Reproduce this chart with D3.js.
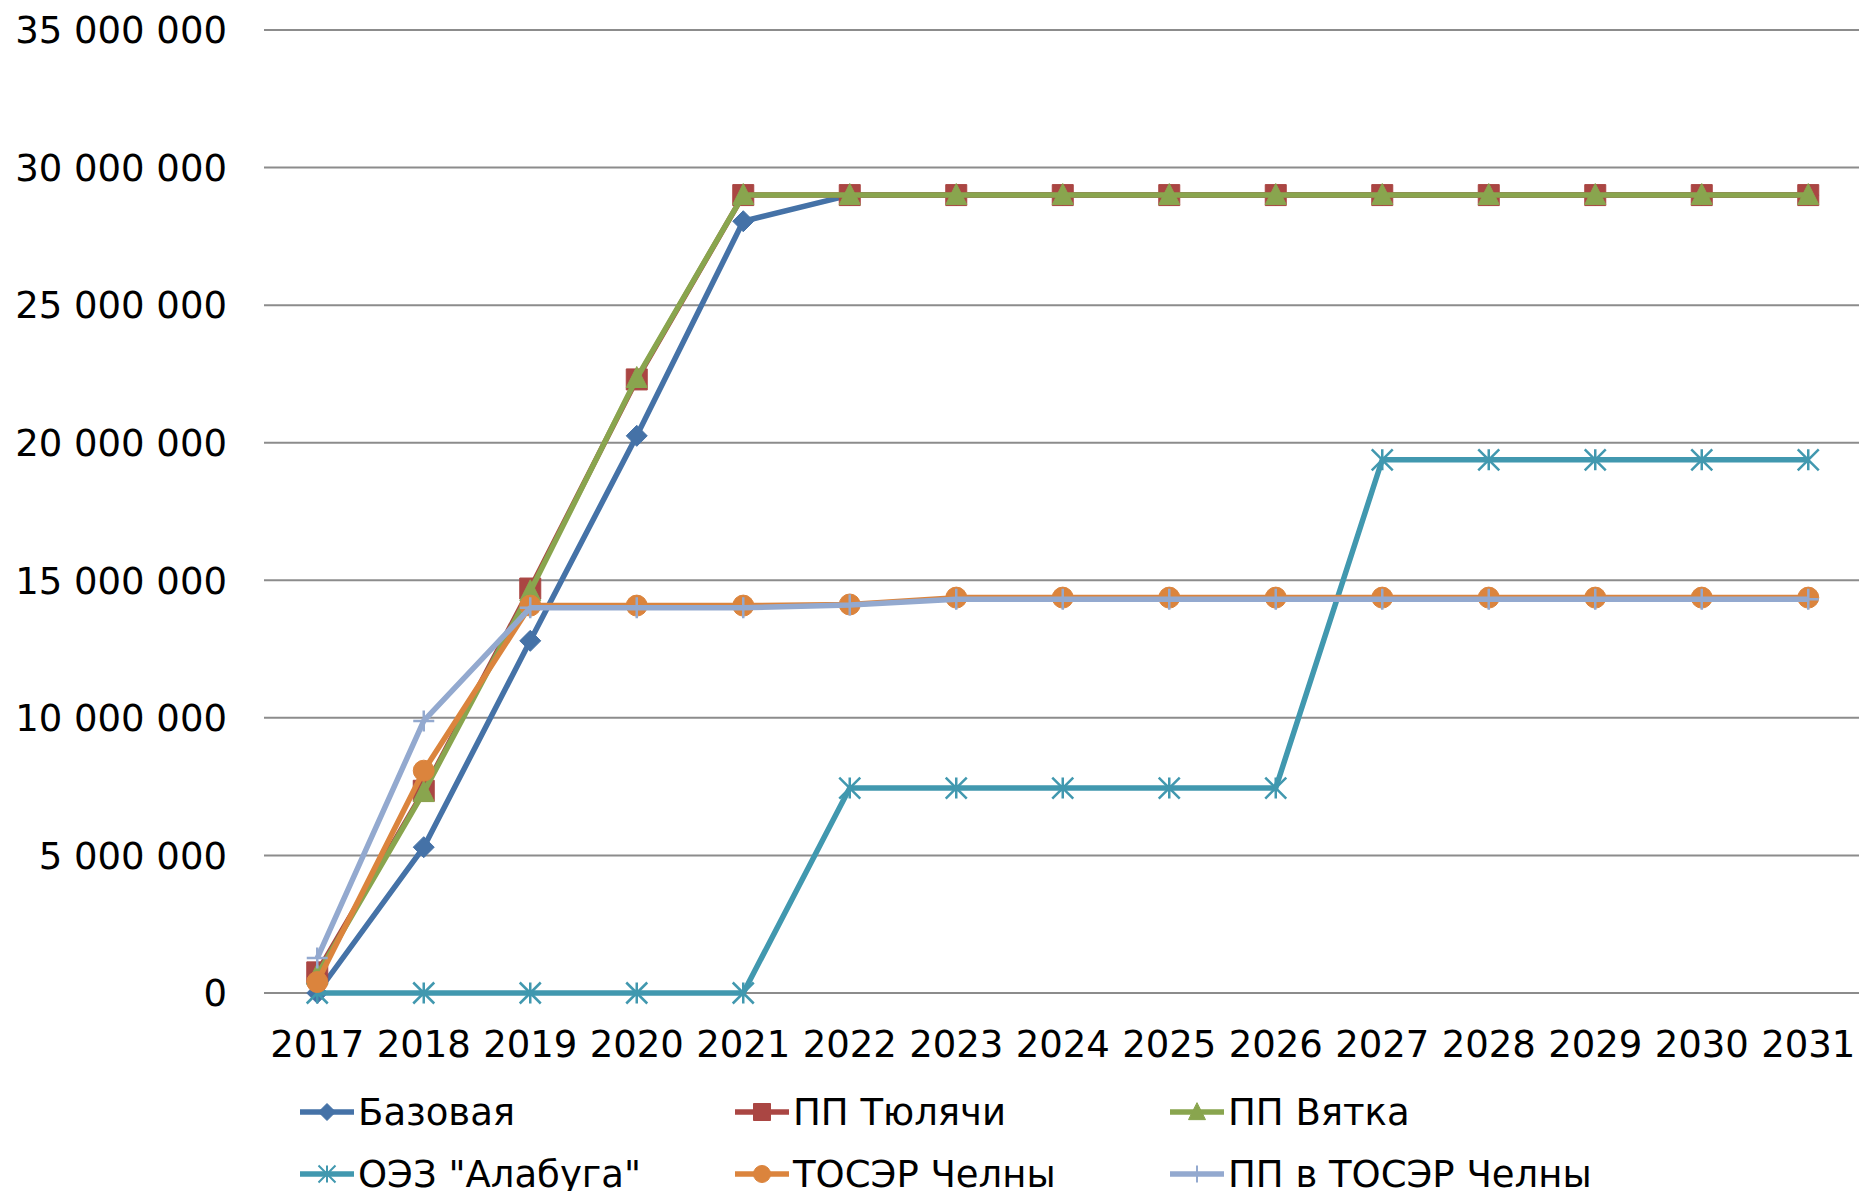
<!DOCTYPE html>
<html>
<head>
<meta charset="utf-8">
<script src="https://cdn.jsdelivr.net/npm/d3@7"></script>
<style>
  html, body { margin: 0; padding: 0; background: #fff; }
  svg { display: block; font-family: "DejaVu Sans", Verdana, sans-serif; }
</style>
</head>
<body>
<svg id="chart" width="1859" height="1191"></svg>
<script>
// Data
const years = ["2017", "2018", "2019", "2020", "2021", "2022", "2023", "2024",
               "2025", "2026", "2027", "2028", "2029", "2030", "2031"];
const yTicks = [0, 5000000, 10000000, 15000000, 20000000, 25000000, 30000000, 35000000];

const bazovaya  = [0, 5300000, 12800000, 20250000, 28050000, 29000000, 29000000, 29000000,
                   29000000, 29000000, 29000000, 29000000, 29000000, 29000000, 29000000];
const tyulyachi = [750000, 7350000, 14700000, 22300000, 29000000, 29000000, 29000000, 29000000,
                   29000000, 29000000, 29000000, 29000000, 29000000, 29000000, 29000000];
const vyatka    = [650000, 7300000, 14600000, 22350000, 29000000, 29000000, 29000000, 29000000,
                   29000000, 29000000, 29000000, 29000000, 29000000, 29000000, 29000000];
const alabuga   = [0, 0, 0, 0, 0, 7450000, 7450000, 7450000,
                   7450000, 7450000, 19380000, 19380000, 19380000, 19380000, 19380000];
const tosorChelny = [400000, 8080000, 14080000, 14080000, 14080000, 14120000, 14370000, 14370000,
                     14370000, 14370000, 14370000, 14370000, 14370000, 14370000, 14370000];
const ppTosor   = [1270000, 9890000, 14000000, 14000000, 14000000, 14100000, 14310000, 14310000,
                   14310000, 14310000, 14310000, 14310000, 14310000, 14310000, 14310000];

const seriesNames = ["Базовая", "ПП Тюлячи", "ПП Вятка", "ОЭЗ \"Алабуга\"", "ТОСЭР Челны", "ПП в ТОСЭР Челны"];
const seriesValues = [bazovaya, tyulyachi, vyatka, alabuga, tosorChelny, ppTosor];
const seriesColors = ["#4572A7", "#AA4643", "#89A54E", "#4198AF", "#DB843D", "#93A9CF"];
const seriesMarkers = ["diamond", "square", "triangle", "star", "circle", "plus"];

// marker paths, centred on 0,0
function markerPath(type, s) {
  const h = s / 2;
  switch (type) {
    case "diamond": return `M0,${-h}L${h},0L0,${h}L${-h},0Z`;
    case "square": return `M${-h},${-h}H${h}V${h}H${-h}Z`;
    case "triangle": return `M0,${-h * 1.1}L${h},${h * 0.9}L${-h},${h * 0.9}Z`;
    case "circle": return d3.symbol(d3.symbolCircle, Math.PI * h * h)();
    case "star": return `M${-h},${-h}L${h},${h}M${-h},${h}L${h},${-h}M0,${-h}V${h}`;
    case "plus": return `M${-h},0H${h}M0,${-h}V${h}`;
  }
}
const strokeOnly = t => t === "star" || t === "plus";

const svg = d3.select("#chart");
const width = +svg.attr("width");

const x = d3.scaleBand().domain(years).range([264, 1861.5]);
const y = d3.scaleLinear().domain([0, 35000000]).range([993, 30]);
const fmt = v => d3.format(",")(v).replace(/,/g, " ");

// Gridlines
svg.append("g")
  .selectAll("line")
  .data(yTicks)
  .join("line")
  .attr("x1", 264).attr("x2", width)
  .attr("y1", d => y(d)).attr("y2", d => y(d))
  .attr("stroke", "#8c8c8c")
  .attr("stroke-width", 2);

// Y axis labels
svg.append("g")
  .selectAll("text")
  .data(yTicks)
  .join("text")
  .attr("x", 227)
  .attr("y", d => y(d))
  .attr("dy", "0.36em")
  .attr("text-anchor", "end")
  .style("font-size", "37px")
  .text(fmt);

// X axis labels
svg.append("g")
  .selectAll("text")
  .data(years)
  .join("text")
  .attr("x", d => x(d) + x.bandwidth() / 2)
  .attr("y", 1057)
  .attr("text-anchor", "middle")
  .style("font-size", "37px")
  .text(d => d);

// Lines + markers, series by series
const line = d3.line()
  .x((d, i) => x(years[i]) + x.bandwidth() / 2)
  .y(d => y(d));

seriesValues.forEach((vals, si) => {
  const col = seriesColors[si];
  const mk = seriesMarkers[si];
  const g = svg.append("g");
  g.append("path")
    .attr("d", line(vals))
    .attr("fill", "none")
    .attr("stroke", col)
    .attr("stroke-width", 5.5)
    .attr("stroke-linejoin", "round");
  g.selectAll("path.m")
    .data(vals)
    .join("path")
    .attr("class", "m")
    .attr("transform", (d, i) => `translate(${x(years[i]) + x.bandwidth() / 2},${y(d)})`)
    .attr("d", markerPath(mk, 21))
    .attr("fill", strokeOnly(mk) ? "none" : col)
    .attr("stroke", col)
    .attr("stroke-width", strokeOnly(mk) ? 2.5 : 1);
});

// Legend
const legendCols = [300, 735, 1170];
const legendRows = [1112, 1174];
const legend = svg.append("g");
seriesNames.forEach((name, i) => {
  const lx = legendCols[i % 3];
  const ly = legendRows[Math.floor(i / 3)];
  const mk = seriesMarkers[i];
  const it = legend.append("g").attr("transform", `translate(${lx},${ly})`);
  it.append("line")
    .attr("x1", 0).attr("x2", 54)
    .attr("stroke", seriesColors[i])
    .attr("stroke-width", 5.5);
  it.append("path")
    .attr("transform", "translate(27,0)")
    .attr("d", markerPath(mk, 17))
    .attr("fill", strokeOnly(mk) ? "none" : seriesColors[i])
    .attr("stroke", seriesColors[i])
    .attr("stroke-width", strokeOnly(mk) ? 2 : 1);
  it.append("text")
    .attr("x", 58)
    .attr("dy", "0.36em")
    .style("font-size", "37px")
    .text(name);
});
</script>
</body>
</html>
